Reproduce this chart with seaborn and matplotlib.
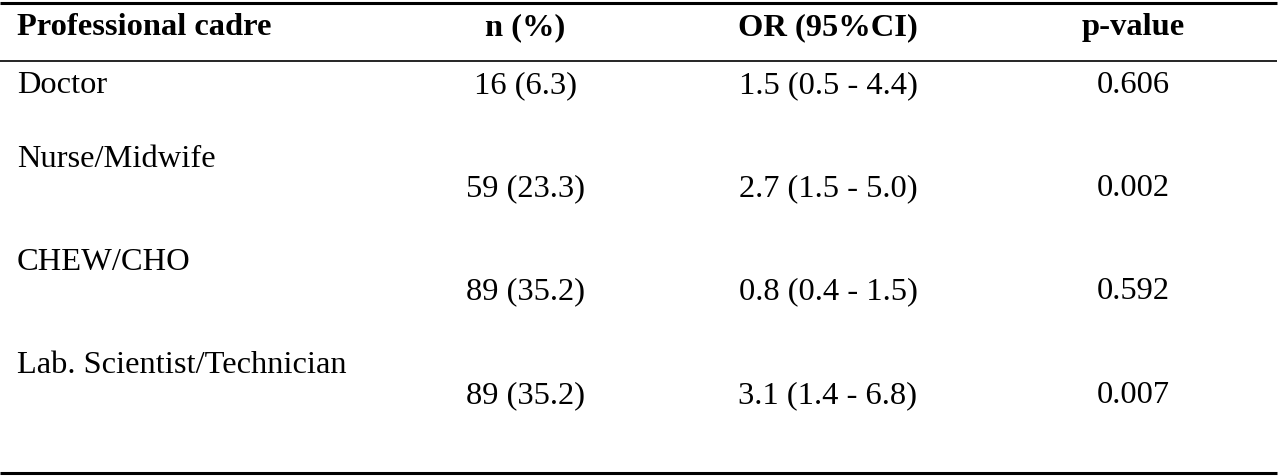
import matplotlib
matplotlib.use("Agg")
import matplotlib.pyplot as plt
import seaborn as sns

headers = ["Professional cadre", "n (%)", "OR (95%CI)", "p-value"]
cadres = ["Doctor", "Nurse/Midwife", "CHEW/CHO", "Lab. Scientist/Technician"]
n_pct = ["16 (6.3)", "59 (23.3)", "89 (35.2)", "89 (35.2)"]
or_ci = ["1.5 (0.5 - 4.4)", "2.7 (1.5 - 5.0)", "0.8 (0.4 - 1.5)", "3.1 (1.4 - 6.8)"]
p_values = ["0.606", "0.002", "0.592", "0.007"]

sns.set_theme(style="white")
plt.rcParams["font.family"] = ["Liberation Serif", "DejaVu Serif"]
plt.rcParams["text.color"] = "black"

fig = plt.figure(figsize=(12.8, 4.76), dpi=100)
ax = fig.add_axes([0, 0, 1, 1])
ax.set_xlim(0, 1280)
ax.set_ylim(476, 0)
ax.axis("off")

fs = 23.4
col_x = [17, 525, 828, 1133]
# baselines (pixels from top)
label_y = [93, 167, 270, 373]
value_y = [93, 196, 299, 403]

# rules
ax.plot([0, 1277], [2.5, 2.5], color="black", lw=2.2, solid_capstyle="butt")
ax.plot([0, 1277], [61, 61], color="black", lw=1.2, solid_capstyle="butt")
ax.plot([0, 1277], [472.5, 472.5], color="black", lw=2.2, solid_capstyle="butt")

# header
ax.text(col_x[0], 35, headers[0], fontsize=fs, fontweight="bold", ha="left", va="baseline")
for x, h in zip(col_x[1:], headers[1:]):
    ax.text(x, 35, h, fontsize=fs, fontweight="bold", ha="center", va="baseline")

# body
for i in range(len(cadres)):
    ax.text(col_x[0], label_y[i], cadres[i], fontsize=fs, ha="left", va="baseline")
    ax.text(col_x[1], value_y[i], n_pct[i], fontsize=fs, ha="center", va="baseline")
    ax.text(col_x[2], value_y[i], or_ci[i], fontsize=fs, ha="center", va="baseline")
    ax.text(col_x[3], value_y[i], p_values[i], fontsize=fs, ha="center", va="baseline")

fig.savefig("out.png", dpi=100)
